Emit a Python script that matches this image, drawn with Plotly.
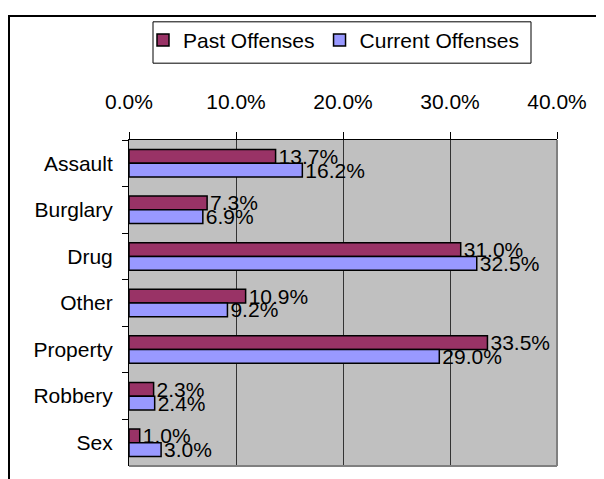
import plotly.graph_objects as go

categories = ["Assault", "Burglary", "Drug", "Other", "Property", "Robbery", "Sex"]
past_offenses = [0.137, 0.073, 0.310, 0.109, 0.335, 0.023, 0.010]
current_offenses = [0.162, 0.069, 0.325, 0.092, 0.290, 0.024, 0.030]
x_ticks = [0.0, 0.1, 0.2, 0.3, 0.4]

FONT = "Liberation Sans, Arial, sans-serif"
FS = 21

# the page body adds an 8px margin, so the figure is laid out in shifted coordinates
OFF = 8
W, H = 604 - OFF, 479 - OFF
L, T = 129 - OFF, 135 - OFF
PW, PH = 428, 331
R, B = W - L - PW, H - T - PH


def px_x(p):
    return (p - OFF - L) / PW


def px_y(p):
    return 1 - (p - OFF - T) / PH


fig = go.Figure()
fig.add_trace(go.Bar(
    y=categories, x=past_offenses, name="Past Offenses", orientation="h",
    marker=dict(color="#993366", line=dict(color="black", width=1.5)),
    texttemplate="%{x:.1%}", textposition="outside", constraintext="none",
    cliponaxis=False, textfont=dict(family=FONT, size=FS, color="black"),
))
fig.add_trace(go.Bar(
    y=categories, x=current_offenses, name="Current Offenses", orientation="h",
    marker=dict(color="#9999FF", line=dict(color="black", width=1.5)),
    texttemplate="%{x:.1%}", textposition="outside", constraintext="none",
    cliponaxis=False, textfont=dict(family=FONT, size=FS, color="black"),
))

shapes = [
    # outer chart frame (extends past the picture edge on right/bottom)
    dict(type="rect", xref="paper", yref="paper",
         x0=px_x(9), x1=px_x(640), y0=px_y(9), y1=px_y(520),
         line=dict(color="black", width=2), layer="below"),
    # legend box
    dict(type="rect", xref="paper", yref="paper",
         x0=px_x(153), x1=px_x(531), y0=px_y(57), y1=px_y(15),
         line=dict(color="black", width=1), fillcolor="white", layer="below"),
    # plot area right/bottom border
    dict(type="line", xref="paper", yref="paper", x0=1, x1=1, y0=0, y1=1,
         line=dict(color="#808080", width=2)),
    dict(type="line", xref="paper", yref="paper", x0=0, x1=1, y0=0, y1=0,
         line=dict(color="#808080", width=2)),
]

fig.update_layout(
    width=W, height=H,
    margin=dict(l=L, r=R, t=T, b=B, pad=0),
    paper_bgcolor="white", plot_bgcolor="#C0C0C0",
    barmode="group", bargap=0.41, bargroupgap=0,
    font=dict(family=FONT, size=FS, color="black"),
    showlegend=True,
    legend=dict(orientation="h", x=px_x(143), y=px_y(13),
                xanchor="left", yanchor="top",
                font=dict(family=FONT, size=FS, color="black"),
                bgcolor="rgba(0,0,0,0)", borderwidth=0,
                traceorder="normal"),
    shapes=shapes,
)
fig.update_xaxes(
    side="top", range=[0, 0.4], tickvals=x_ticks, tickformat=".1%",
    ticks="outside", ticklen=7, tickcolor="black", tickwidth=1,
    showline=True, linecolor="black", linewidth=1,
    showgrid=True, gridcolor="#333333", gridwidth=1, zeroline=False,
    ticklabelstandoff=15, tickfont=dict(family=FONT, size=FS, color="black"),
)
fig.update_yaxes(
    type="category", autorange="reversed", tickson="boundaries",
    ticks="outside", ticklen=6, tickcolor="black", tickwidth=1,
    showline=True, linecolor="black", linewidth=1, showgrid=False,
    ticklabelstandoff=11, tickfont=dict(family=FONT, size=FS, color="black"),
)

fig.write_html("out.html")
